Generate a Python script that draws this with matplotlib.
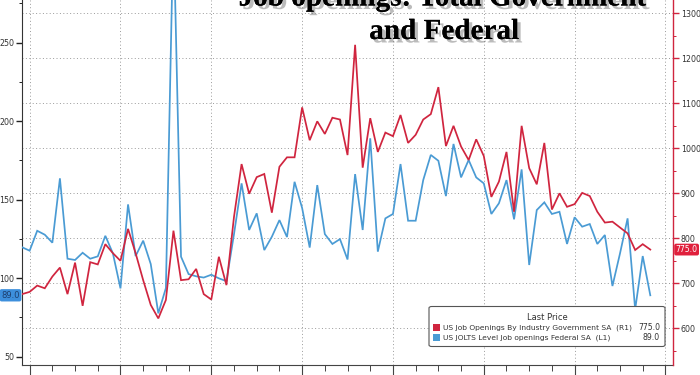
import matplotlib
matplotlib.use("Agg")
import matplotlib.pyplot as plt
import matplotlib.patheffects as pe
from matplotlib.patches import FancyBboxPatch, Rectangle
from matplotlib.ticker import MultipleLocator, FixedLocator
from matplotlib.transforms import blended_transform_factory

# ---------------- data (monthly, 84 observations) ----------------
federal = [119.6, 117.4, 130.1, 127.6, 122.5, 163.5, 112.3, 111.5, 116.1, 112.3,
           113.8, 126.9, 115.7, 93.4, 146.9, 114.0, 123.8, 108.9, 77.5, 93.6,
           325.0, 113.6, 102.5, 101.1, 100.3, 102.1, 99.8, 98.0, 128.0, 160.3,
           130.6, 141.2, 117.8, 126.3, 136.9, 126.1, 161.3, 144.6, 119.4, 159.2,
           128.0, 121.7, 124.8, 111.8, 166.2, 130.6, 189.0, 116.8, 138.0, 140.8,
           172.6, 136.5, 136.5, 162.4, 178.4, 174.7, 152.2, 185.4, 164.1, 175.2,
           164.1, 160.3, 140.8, 147.6, 162.4, 137.4, 169.2, 108.3, 143.3, 148.2,
           140.8, 142.2, 121.7, 138.7, 132.7, 134.4, 121.7, 127.4, 94.9, 115.7,
           138.0, 80.0, 114.0, 89.0]
government = [676, 681, 695, 689, 715, 735, 676, 746, 650, 747,
              742, 787, 767, 750, 821, 767, 707, 652, 622, 663,
              817, 707, 709, 732, 676, 664, 759, 696, 848, 965,
              899, 936, 943, 857, 959, 980, 980, 1091, 1018, 1060,
              1032, 1068, 1064, 985, 1230, 957, 1067, 992, 1035, 1027,
              1074, 1012, 1030, 1064, 1076, 1136, 1005, 1050, 1004, 974,
              1020, 983, 892, 926, 992, 859, 1050, 956, 920, 1012,
              864, 900, 870, 876, 901, 894, 859, 835, 837, 824,
              811, 774, 787, 775]
months = list(range(len(federal)))

title_lines = ["Job openings: Total Government", "and Federal"]
legend_title = "Last Price"
legend_labels = ["US Job Openings By Industry Government SA  (R1)",
                 "US JOLTS Level Job openings Federal SA  (L1)"]
last_gov = government[-1]
last_fed = federal[-1]

RED = "#d0253f"
BLUE = "#4a9bd4"
GRID = "#9a9a9a"
TXT = "#333333"

fig = plt.figure(figsize=(7.0, 3.75), dpi=100)
fig.patch.set_facecolor("white")
ax = fig.add_axes([21.7 / 700, 10 / 375, (673 - 21.7) / 700, 365 / 375])
ax2 = ax.twinx()

ax.set_xlim(-0.05, 86)
ax.set_ylim(44.6, 277.1)
ax2.set_ylim(518.5, 1329.6)

# x ticks: yearly majors, quarterly minors (labels fall below the crop)
ax.xaxis.set_major_locator(FixedLocator(list(range(1, 90, 12))))
ax.xaxis.set_minor_locator(FixedLocator(list(range(1, 90, 3))))
ax.tick_params(axis="x", which="major", length=11, width=0.8, color="#444",
               labelbottom=False, direction="out")
ax.tick_params(axis="x", which="minor", length=4, width=0.7, color="#444",
               direction="out")

ax.yaxis.set_major_locator(MultipleLocator(50))
ax.yaxis.set_minor_locator(MultipleLocator(25))
ax.tick_params(axis="y", which="major", length=4, width=1.0, color="#222",
               labelsize=5.7, labelcolor=TXT, pad=1.5)
ax.tick_params(axis="y", which="minor", length=2, width=0.7, color="#222")

ax2.yaxis.set_major_locator(MultipleLocator(100))
ax2.yaxis.set_minor_locator(MultipleLocator(50))
ax2.tick_params(axis="y", which="major", length=4, width=1.0, color=RED,
                labelsize=5.7, labelcolor=TXT, pad=1.5)
ax2.tick_params(axis="y", which="minor", length=2, width=0.7, color=RED)

ax.spines["top"].set_visible(False)
ax2.spines["top"].set_visible(False)
ax.spines["right"].set_visible(False)
ax2.spines["left"].set_visible(False)
ax2.spines["bottom"].set_visible(False)
ax.spines["left"].set_color("#333")
ax.spines["bottom"].set_color("#444")
ax2.spines["right"].set_color(RED)
ax2.spines["right"].set_linewidth(1.0)

# grid: vertical at x majors, horizontal at right-axis majors
for xv in ax.xaxis.get_major_locator()():
    ax.axvline(xv, color=GRID, lw=0.7, ls=(0, (1, 2.5)), zorder=0)
fig.canvas.draw()
inv = ax.transData.inverted()
for rv in ax2.yaxis.get_major_locator()():
    if 518.5 < rv < 1329.6:
        _, lv = inv.transform(ax2.transData.transform((0, rv)))
        ax.axhline(lv, color=GRID, lw=0.7, ls=(0, (1, 2.5)), zorder=0)

ax.plot(months, federal, color=BLUE, lw=1.25, zorder=3, solid_joinstyle="miter")
ax2.plot(months, government, color=RED, lw=1.25, zorder=3, solid_joinstyle="miter")

# last price tags
tl = blended_transform_factory(ax.transAxes, ax.transData)
ax.text(-0.003, last_fed, f"{last_fed:.1f}", transform=tl, ha="right", va="center",
        fontsize=6.0, color="#1d3f6e", clip_on=False, zorder=10,
        bbox=dict(boxstyle="round,pad=0.2,rounding_size=0.25", fc="#3d8fdc", ec="none"))
tr = blended_transform_factory(ax2.transAxes, ax2.transData)
ax2.text(1.004, last_gov, f"{last_gov:.1f}", transform=tr, ha="left", va="center",
         fontsize=5.6, color="white", clip_on=False, zorder=10,
         bbox=dict(boxstyle="round,pad=0.18,rounding_size=0.25", fc="#e0203c", ec="none"))

# title with soft shadow
shadow = [pe.withSimplePatchShadow(offset=(2.5, -2.5), shadow_rgbFace="#555", alpha=0.4),
          pe.Normal()]
fig.text(442 / 700, 1 - 5.5 / 375, title_lines[0], ha="center", va="baseline",
         fontsize=21, fontweight="bold", family="Liberation Serif", color="black",
         path_effects=shadow)
fig.text(444 / 700, 1 - 39 / 375, title_lines[1], ha="center", va="baseline",
         fontsize=21, fontweight="bold", family="Liberation Serif", color="black",
         path_effects=shadow)

# legend box (figure pixel coords converted to fractions)
W, H = 700.0, 375.0
def fx(x):
    return x / W
def fy(y):
    return 1 - y / H

box = FancyBboxPatch((fx(429), fy(346.5)), fx(665) - fx(429), fy(306.5) - fy(346.5),
                     boxstyle="round,pad=0,rounding_size=0.004",
                     transform=fig.transFigure, fc="white", ec="#555555", lw=0.8,
                     zorder=5)
fig.patches.append(box)
fig.text(fx(547), fy(317.5), legend_title, ha="center", va="center",
         fontsize=6.0, color=TXT, zorder=6)
rows = [(legend_labels[0], last_gov, RED, 327.5), (legend_labels[1], last_fed, BLUE, 337.5)]
for lab, val, col, yy in rows:
    sq = Rectangle((fx(433), fy(yy + 3.5)), 7 / W, 7 / H, transform=fig.transFigure,
                   fc=col, ec="none", zorder=6)
    fig.patches.append(sq)
    fig.text(fx(443), fy(yy), lab, ha="left", va="center", fontsize=5.4,
             color=TXT, zorder=6)
    fig.text(fx(660), fy(yy), f"{val:.1f}", ha="right", va="center", fontsize=5.6,
             color=TXT, zorder=6)

fig.savefig("out.png", dpi=100, facecolor="white")
